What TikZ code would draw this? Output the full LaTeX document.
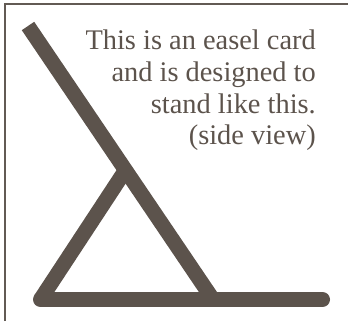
\documentclass[tikz,border=0pt]{standalone}
\usepackage{fontspec}
\setmainfont{Liberation Serif}
\usetikzlibrary{calc}
\definecolor{easelInk}{RGB}{92,83,76}
\definecolor{easelFrame}{RGB}{98,90,84}
\tikzset{
  % the card and its stand, one thick stroke each
  card/.style={draw=easelInk, line width=15pt, line cap=butt},
  ground/.style={draw=easelInk, line width=15pt, line cap=round},
  % thin rule along the top and the left of the panel
  frame/.style={draw=easelFrame, line width=2pt},
  % the explaining text in the upper right
  note/.style={font=\fontsize{28.4}{31.8}\selectfont, text=easelInk,
               align=right, inner sep=0pt},
}

\begin{document}
\begin{tikzpicture}[x=1pt, y=-1pt]
\useasboundingbox (0,0) rectangle (348,324);

% ================================ frame ====================================
\coordinate (frameBL) at (5,321);
\coordinate (frameTL) at (5,4);
\coordinate (frameTR) at (348,4);
\draw[frame] (frameBL) -- (frameTL) -- (frameTR);

% =============================== easel =====================================
\coordinate (cardTop)   at (28,26);
\coordinate (cardFoot)  at (213,299.5);
\coordinate (hinge)     at ($(cardTop)!0.527!(cardFoot)$);
\coordinate (standFoot) at (40.5,299.5);
\coordinate (groundEnd) at (322.5,299.5);

\draw[ground] (groundEnd) -- (standFoot);
\draw[card]   (standFoot) -- (hinge);
\draw[card]   (cardTop)   -- (cardFoot);

% ================================ note =====================================
% the base anchor of a multi-line node sits on its last line
\node[note, anchor=base east] (caption) at (316,144.9)
      {This is an easel card\\and is designed to\\stand like this.\\(side view)};

\end{tikzpicture}
\end{document}
